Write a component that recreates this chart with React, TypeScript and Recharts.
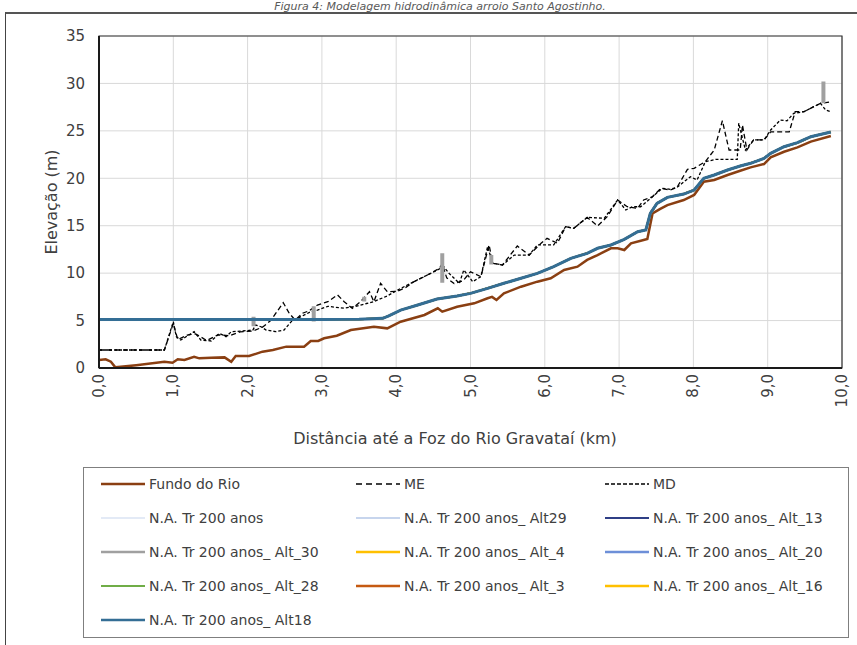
import { LineChart, Line, XAxis, YAxis, CartesianGrid, ReferenceArea } from 'recharts';

type Pt = [number, number];

const xTicks = [0, 1, 2, 3, 4, 5, 6, 7, 8, 9, 10];
const yTicks = [0, 5, 10, 15, 20, 25, 30, 35];

// distância (km), elevação (m)
const fundoDoRio: Pt[] = [
	[0, 0.85], [0.09, 0.92], [0.16, 0.66], [0.22, 0.07], [0.5, 0.3], [0.88, 0.66], [0.99, 0.56],
	[1.06, 0.92], [1.15, 0.84], [1.28, 1.19], [1.35, 1.02], [1.51, 1.09], [1.69, 1.12], [1.78, 0.66],
	[1.84, 1.26], [2.02, 1.26], [2.2, 1.72], [2.34, 1.9], [2.52, 2.25], [2.76, 2.25], [2.85, 2.85],
	[2.95, 2.85], [3.03, 3.13], [3.2, 3.4], [3.39, 4.0], [3.7, 4.36], [3.88, 4.18], [4.06, 4.88],
	[4.38, 5.59], [4.56, 6.29], [4.62, 5.94], [4.82, 6.46], [5.05, 6.82], [5.23, 7.35], [5.29, 7.5],
	[5.35, 7.17], [5.45, 7.87], [5.68, 8.57], [5.9, 9.1], [6.08, 9.46], [6.26, 10.33], [6.44, 10.68],
	[6.57, 11.39], [6.71, 11.91], [6.89, 12.62], [6.98, 12.62], [7.07, 12.44], [7.16, 13.15],
	[7.33, 13.5], [7.38, 13.6], [7.45, 16.3], [7.56, 16.8], [7.65, 17.18], [7.87, 17.71], [8.01, 18.24],
	[8.14, 19.64], [8.28, 19.82], [8.46, 20.35], [8.63, 20.8], [8.77, 21.15], [8.95, 21.5], [9.04, 22.21],
	[9.22, 22.8], [9.4, 23.26], [9.58, 23.86], [9.85, 24.46],
];

const margemEsquerda: Pt[] = [
	[0, 1.9], [0.88, 1.9], [1.0, 4.7], [1.06, 3.0], [1.2, 3.5], [1.3, 3.6], [1.45, 2.9], [1.6, 3.5],
	[1.75, 3.4], [1.9, 3.8], [2.07, 3.9], [2.2, 4.3], [2.31, 5.0], [2.48, 6.88], [2.56, 5.77],
	[2.64, 5.06], [2.74, 5.77], [2.83, 6.04], [2.94, 6.64], [3.08, 6.99], [3.21, 7.7], [3.3, 6.99],
	[3.41, 6.29], [3.52, 6.99], [3.64, 8.04], [3.7, 6.99], [3.79, 8.93], [3.88, 8.04], [4.02, 8.1],
	[4.13, 8.5], [4.24, 9.1], [4.42, 9.8], [4.58, 10.5], [4.62, 11.0], [4.68, 9.5], [4.78, 8.9],
	[4.9, 9.2], [5.0, 10.15], [5.14, 9.63], [5.25, 12.97], [5.3, 11.04], [5.43, 10.86], [5.63, 12.86],
	[5.79, 11.91], [5.95, 13.15], [6.03, 13.67], [6.17, 13.15], [6.28, 14.9], [6.39, 14.72],
	[6.57, 15.88], [6.71, 14.97], [6.84, 15.95], [6.98, 17.71], [7.11, 17.0], [7.25, 16.83],
	[7.33, 17.71], [7.45, 18.06], [7.56, 18.94], [7.69, 18.76], [7.78, 19.05], [7.92, 20.94],
	[8.01, 21.05], [8.16, 21.75], [8.28, 22.98], [8.39, 26.07], [8.48, 22.98], [8.63, 22.98],
	[8.66, 25.62], [8.72, 22.98], [8.81, 24.04], [8.95, 24.04], [9.04, 24.9], [9.29, 24.9],
	[9.37, 27.02], [9.49, 27.02], [9.62, 27.55], [9.71, 27.9], [9.85, 28.07],
];

const margemDireita: Pt[] = [
	[0, 1.9], [0.88, 1.9], [1.0, 4.88], [1.04, 3.3], [1.1, 2.95], [1.21, 3.48], [1.28, 3.83],
	[1.37, 2.95], [1.51, 2.85], [1.62, 3.65], [1.71, 3.3], [1.78, 3.83], [1.93, 3.9], [2.07, 4.0],
	[2.11, 4.53], [2.18, 4.35], [2.25, 4.0], [2.38, 3.83], [2.49, 4.0], [2.6, 5.0], [2.72, 5.41],
	[2.85, 5.94], [2.94, 6.1], [3.08, 6.5], [3.3, 6.3], [3.45, 6.5], [3.6, 6.8], [3.7, 7.0],
	[3.88, 7.6], [4.02, 8.22], [4.15, 8.75], [4.33, 9.46], [4.51, 10.15], [4.64, 10.68], [4.71, 9.98],
	[4.85, 8.93], [4.91, 10.33], [5.03, 9.1], [5.14, 9.63], [5.23, 12.79], [5.3, 11.04], [5.43, 10.86],
	[5.59, 11.91], [5.79, 11.91], [5.9, 12.97], [6.12, 12.97], [6.28, 14.9], [6.39, 14.72],
	[6.57, 15.88], [6.8, 15.78], [6.98, 17.71], [7.09, 16.66], [7.18, 17.0], [7.29, 17.0],
	[7.45, 18.06], [7.58, 18.94], [7.69, 18.84], [7.78, 19.05], [7.96, 20.17], [8.05, 19.82],
	[8.16, 21.75], [8.3, 21.99], [8.59, 21.99], [8.61, 25.8], [8.7, 22.98], [8.81, 24.04],
	[8.95, 24.04], [9.04, 25.09], [9.17, 26.14], [9.26, 26.07], [9.35, 26.85], [9.49, 27.02],
	[9.62, 27.55], [9.71, 27.9], [9.78, 27.2], [9.85, 27.02],
];

// N.A. Tr 200 anos (Alt18 e alternativas sobrepostas)
const nivelAgua: Pt[] = [
	[0, 5.1], [3.0, 5.12], [3.5, 5.15], [3.82, 5.24], [3.9, 5.5], [4.06, 6.1], [4.29, 6.64],
	[4.55, 7.27], [4.82, 7.59], [5.0, 7.87], [5.23, 8.4], [5.45, 8.93], [5.68, 9.46], [5.9, 9.98],
	[6.12, 10.68], [6.35, 11.56], [6.57, 12.09], [6.71, 12.62], [6.89, 12.97], [7.07, 13.56],
	[7.25, 14.37], [7.36, 14.55], [7.42, 16.3], [7.51, 17.36], [7.65, 17.99], [7.87, 18.34],
	[8.01, 18.76], [8.14, 20.0], [8.28, 20.35], [8.46, 20.87], [8.63, 21.3], [8.77, 21.58],
	[8.95, 22.1], [9.04, 22.63], [9.22, 23.33], [9.4, 23.75], [9.58, 24.38], [9.85, 24.88],
];

// Alt_30: trechos curtos [x, y inferior, y superior]
const alt30Trechos: [number, number, number][] = [
	[2.08, 4.4, 5.4], [2.89, 4.9, 6.5], [3.57, 7.0, 7.5], [4.62, 9.0, 12.1], [5.28, 10.9, 11.9], [9.75, 27.9, 30.2],
];

const rows = (pts: Pt[]) => pts.map(([x, y]) => ({ x, y }));
const alt30Rows = alt30Trechos.flatMap(([x, lo, hi]) => [{ x, y: lo }, { x, y: hi }, { x, y: null }]);

const series = [
	{ name: 'Fundo do Rio', color: '#8A3F12', width: 2.5, legendWidth: 2.5, data: rows(fundoDoRio) },
	{ name: 'ME', color: '#000000', width: 1.3, legendWidth: 1.5, dash: '5 3', legendDash: '6 4', data: rows(margemEsquerda) },
	{ name: 'MD', color: '#000000', width: 1.3, legendWidth: 1.5, dash: '3 2', legendDash: '4 2', data: rows(margemDireita) },
	{ name: 'N.A. Tr 200 anos', color: '#DAE3F3', width: 2, legendWidth: 1.5, data: rows(nivelAgua) },
	{ name: 'N.A. Tr 200 anos_ Alt29', color: '#B4C7E7', width: 2, legendWidth: 1.5, data: rows(nivelAgua) },
	{ name: 'N.A. Tr 200 anos_ Alt_13', color: '#2F3F86', width: 2, legendWidth: 2, data: rows(nivelAgua) },
	{ name: 'N.A. Tr 200 anos_ Alt_30', color: '#A0A0A0', width: 4, legendWidth: 2.5, data: alt30Rows },
	{ name: 'N.A. Tr 200 anos_ Alt_4', color: '#FFC000', width: 2, legendWidth: 2.5, data: rows(nivelAgua) },
	{ name: 'N.A. Tr 200 anos_ Alt_20', color: '#6D8FD8', width: 2, legendWidth: 2.5, data: rows(nivelAgua) },
	{ name: 'N.A. Tr 200 anos_ Alt_28', color: '#70AD47', width: 2, legendWidth: 2, data: rows(nivelAgua) },
	{ name: 'N.A. Tr 200 anos_ Alt_3', color: '#C55A11', width: 2, legendWidth: 2.5, data: rows(nivelAgua) },
	{ name: 'N.A. Tr 200 anos_ Alt_16', color: '#FFC000', width: 2, legendWidth: 2.5, data: rows(nivelAgua) },
	{ name: 'N.A. Tr 200 anos_ Alt18', color: '#346E95', width: 3, legendWidth: 2.5, data: rows(nivelAgua) },
];

const font = '"DejaVu Sans", Verdana, sans-serif';
const textColor = '#404040';

function XTick({ x, y, payload }: any) {
	return (
		<text x={x} y={y} transform={`rotate(-90 ${x} ${y})`} textAnchor="end" dominantBaseline="central"
			fill={textColor} fontSize={15} fontFamily={font}>
			{Number(payload.value).toFixed(1).replace('.', ',')}
		</text>
	);
}

const legendCols = [17, 272, 521];

export default function App() {
	return (
		<div style={{ position: 'fixed', left: 0, top: 0, width: 857, height: 645, background: '#fff', overflow: 'hidden', fontFamily: font }}>
			<div style={{
				position: 'absolute', left: 0, width: 880, top: 0, textAlign: 'center', fontSize: 11,
				lineHeight: '13px', fontStyle: 'italic', color: '#595959', whiteSpace: 'nowrap'
			}}>
				Figura 4: Modelagem hidrodinâmica arroio Santo Agostinho.
			</div>
			<div style={{ position: 'absolute', left: 5, top: 12, width: 860, height: 640, borderTop: '2px solid #555', borderLeft: '1px solid #444' }} />

			<div style={{ position: 'absolute', left: 0, top: 0 }}>
				<LineChart width={857} height={460} margin={{ top: 36, right: 15, bottom: 52, left: 59 }}>
					<CartesianGrid stroke="#d9d9d9" strokeWidth={1} />
					<XAxis type="number" dataKey="x" domain={[0, 10]} ticks={xTicks} allowDataOverflow
						height={40} tickSize={0} tickMargin={6} tickLine={false}
						axisLine={{ stroke: '#1a1a1a', strokeWidth: 2 }} tick={<XTick />} interval={0} />
					<YAxis type="number" domain={[0, 35]} ticks={yTicks} width={40} tickLine={false}
						tickSize={6} tickMargin={8}
						axisLine={{ stroke: '#1a1a1a', strokeWidth: 2 }} interval={0}
						tick={{ fill: textColor, fontSize: 15, fontFamily: font }} />
					<ReferenceArea x1={0} x2={10} y1={0} y2={35} fill="none" stroke="#333" strokeWidth={1.2} />
					{series.map((s) => (
						<Line key={s.name} data={s.data} dataKey="y" name={s.name} type="linear"
							stroke={s.color} strokeWidth={s.width} strokeDasharray={s.dash}
							dot={false} activeDot={false} isAnimationActive={false} />
					))}
				</LineChart>
			</div>

			<div style={{
				position: 'absolute', left: 51, top: 202, transform: 'translate(-50%, -50%) rotate(-90deg)',
				fontSize: 16, color: textColor, whiteSpace: 'nowrap'
			}}>
				Elevação (m)
			</div>
			<div style={{
				position: 'absolute', left: 455, top: 438, transform: 'translate(-50%, -50%)',
				fontSize: 16, color: textColor, whiteSpace: 'nowrap'
			}}>
				Distância até a Foz do Rio Gravataí (km)
			</div>

			<div style={{ position: 'absolute', left: 83, top: 467, width: 764, height: 169, border: '1px solid #7f7f7f' }}>
				{series.map((s, i) => (
					<div key={s.name} style={{
						position: 'absolute', left: legendCols[i % 3], top: 16 + Math.floor(i / 3) * 34,
						transform: 'translateY(-50%)', display: 'flex', alignItems: 'center',
						fontSize: 14, color: textColor, whiteSpace: 'nowrap'
					}}>
						<svg width={44} height={8} style={{ marginRight: 4 }}>
							<line x1={0} y1={4} x2={44} y2={4} stroke={s.color} strokeWidth={s.legendWidth}
								strokeDasharray={s.legendDash} />
						</svg>
						{s.name}
					</div>
				))}
			</div>
		</div>
	);
}
